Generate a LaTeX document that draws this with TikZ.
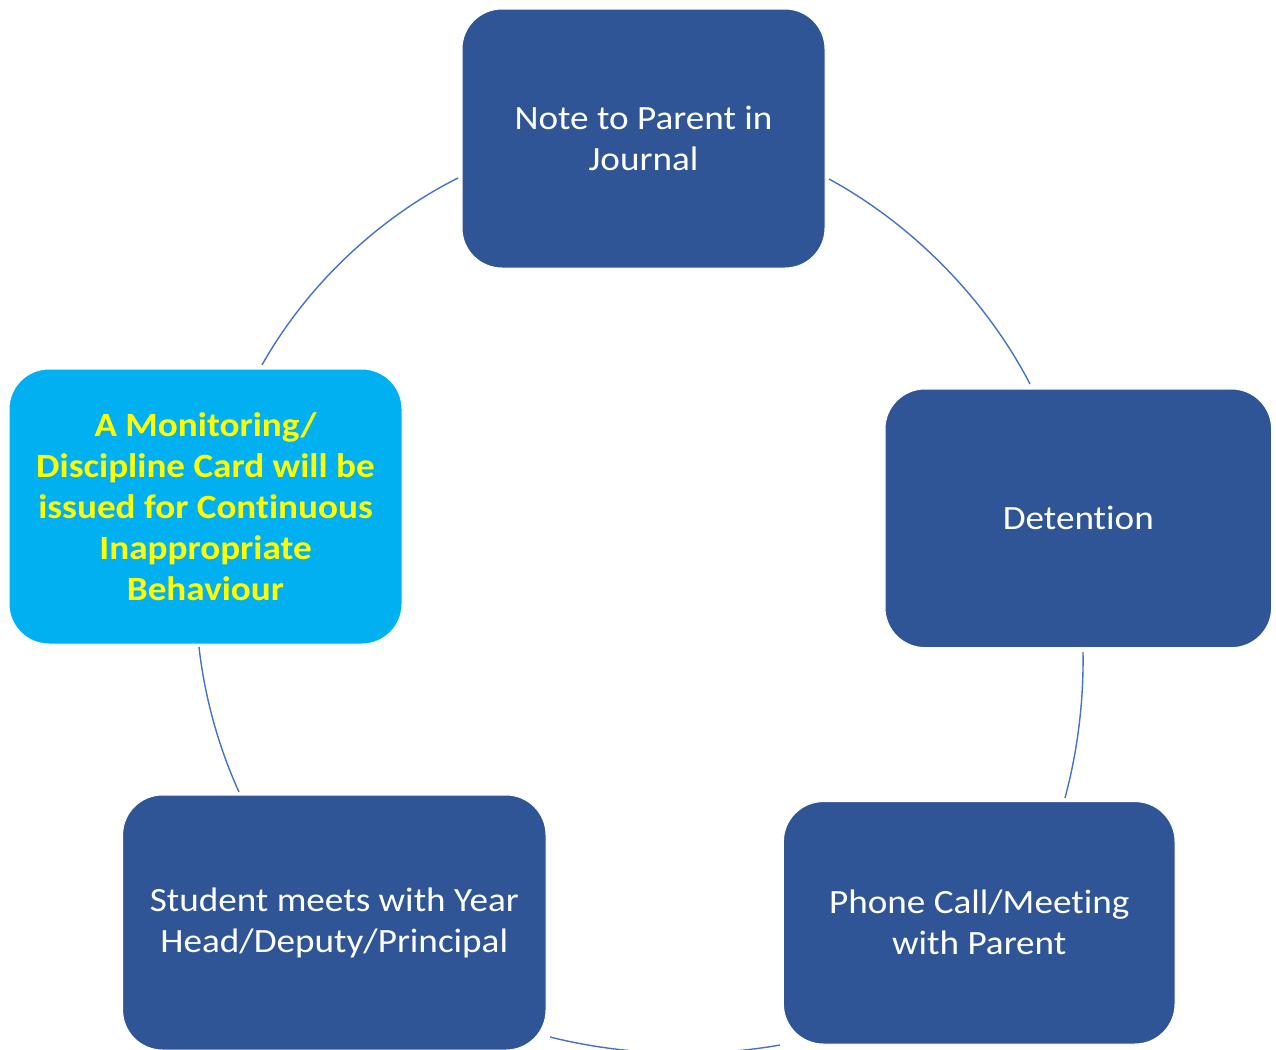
\documentclass[tikz,border=0pt]{standalone}
\usepackage{fontspec}
\setmainfont{Carlito}[Ligatures=NoCommon, FakeStretch=1.093]
\definecolor{boxblue}{RGB}{47,85,151}
\definecolor{cardblue}{RGB}{0,176,240}
\definecolor{arcblue}{RGB}{68,114,196}
\definecolor{cardyellow}{RGB}{255,255,0}
\begin{document}
\begin{tikzpicture}[x=0.5pt,y=-0.5pt,
  stepbox/.style={rectangle, rounded corners=20pt, fill=boxblue, draw=white, line width=0.5pt,
    text=white, align=center, inner sep=0pt,
    font=\fontsize{17}{20.5}\selectfont},
  cardbox/.style={stepbox, fill=cardblue, text=cardyellow,
    font=\fontsize{17}{20.5}\selectfont\bfseries},
  cyclearc/.style={draw=arcblue, line width=0.7pt, looseness=0.85}]
\useasboundingbox (0,0) rectangle (1276,1050);
% boxes
\node[stepbox, minimum width=181.5pt, minimum height=129.5pt] (n1) at (643.5,138.5) {Note to Parent in\\Journal};
\node[stepbox, minimum width=193.3pt, minimum height=129.3pt] (n2) at (1078.3,518.3) {Detention};
\node[stepbox, minimum width=195.8pt, minimum height=121.2pt] (n3) at (979.2,922.8) {Phone Call/Meeting\\with Parent};
\node[stepbox, minimum width=211.7pt, minimum height=127.5pt] (n4) at (334.3,922.5) {Student meets with Year\\Head/Deputy/Principal};
\node[cardbox, minimum width=196.5pt, minimum height=137.5pt] (n5) at (205.5,506.5) {A Monitoring/\\Discipline Card will be\\issued for Continuous\\Inappropriate\\Behaviour};
% arc end points
\coordinate (a12s) at (829,179);  \coordinate (a12e) at (1030,384);
\coordinate (a23s) at (1083,652); \coordinate (a23e) at (1065,798);
\coordinate (a34s) at (780,1045); \coordinate (a34e) at (550,1037);
\coordinate (a45s) at (239,792);  \coordinate (a45e) at (199,647);
\coordinate (a51s) at (262,365);  \coordinate (a51e) at (458,178);
% arcs
\draw[cyclearc] (a12s) to[bend left=17] (a12e);
\draw[cyclearc] (a23s) to[bend left=8] (a23e);
\draw[cyclearc] (a34s) to[bend left=12] (a34e);
\draw[cyclearc] (a45s) to[bend left=9] (a45e);
\draw[cyclearc] (a51s) to[bend left=17] (a51e);
\end{tikzpicture}
\end{document}
